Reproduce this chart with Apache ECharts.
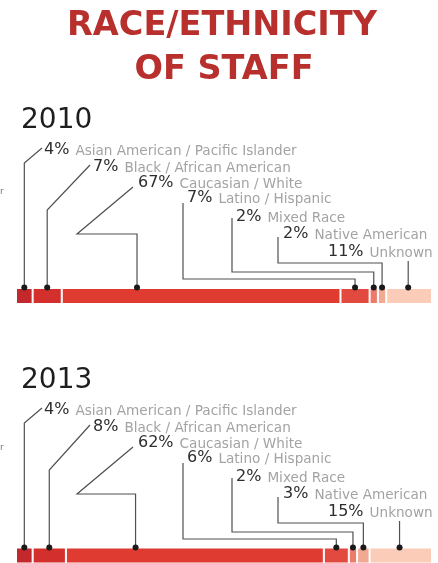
<!DOCTYPE html>
<html>
<head>
<meta charset="utf-8">
<title>Race/Ethnicity of Staff</title>
<script src="https://cdn.jsdelivr.net/npm/echarts@6/dist/echarts.min.js"></script>
<style>
  html, body { margin: 0; padding: 0; background: #ffffff; }
  #chart { width: 438px; height: 563px; }
</style>
</head>
<body>
<div id="chart"></div>
<script>
// Staff composition by race/ethnicity, percent of all staff
const categories = [
  'Asian American / Pacific Islander',
  'Black / African American',
  'Caucasian / White',
  'Latino / Hispanic',
  'Mixed Race',
  'Native American',
  'Unknown'
];
const years = ['2010', '2013'];
const share2010 = [4, 7, 67, 7, 2, 2, 11];
const share2013 = [4, 8, 62, 6, 2, 3, 15];
const titleLines = ['RACE/ETHNICITY', 'OF STAFF'];

// Segment colours, darkest red to pale peach
const segmentColors = ['#c3282c', '#d3302d', '#df3b31', '#e24a3f', '#ec7b6b', '#f3a892', '#fbcdb8'];

// Callout layout, offsets in px from the top edge of each bar
// kind: diag = up then slant to label, zig = slant back then across,
// elbow = rail down from label then across, drop = straight up
const callouts = [
  { kind: 'diag',  lx: 44,  ly: -138, tx: 42,  ty: -140, ky: -125, frac: 0.5 },
  { kind: 'diag',  lx: 93,  ly: -121, tx: 90,  ty: -123, ky: -78,  frac: 0.5 },
  { kind: 'zig',   lx: 138, ly: -105, tx: 133, ty: -101, kx: 77, ky: -54, frac: 0.27 },
  { kind: 'elbow', lx: 187, ly: -90,  tx: 183, ty: -85,  ky: -9,  frac: 0.5 },
  { kind: 'elbow', lx: 236, ly: -71,  tx: 232, ty: -70,  ky: -16, frac: 0.5 },
  { kind: 'elbow', lx: 283, ly: -54,  tx: 278, ty: -51,  ky: -25, frac: 0.5 },
  { kind: 'drop',  lx: 328, ly: -36,  ty: -27, frac: 0.48 }
];

const panels = [
  { year: years[0], shares: share2010, barTop: 288 },
  { year: years[1], shares: share2013, barTop: 548 }
];

const BAR_H = 16;
const LINE = '#505050';
const FONT = '"DejaVu Sans", sans-serif';

function calloutRenderer(shares) {
  return function (params, api) {
    const i = params.dataIndex;
    const c = callouts[i];
    const top = params.coordSys.y;
    let start = 0;
    for (let k = 0; k < i; k++) start += shares[k];
    const dotX = api.coord([start + shares[i] * c.frac, 0])[0];
    const dotY = top - 0.5;
    let pts;
    if (c.kind === 'diag') {
      pts = [[c.tx, top + c.ty], [dotX, top + c.ky], [dotX, dotY]];
    } else if (c.kind === 'zig') {
      pts = [[c.tx, top + c.ty], [c.kx, top + c.ky], [dotX, top + c.ky], [dotX, dotY]];
    } else if (c.kind === 'elbow') {
      pts = [[c.tx, top + c.ty], [c.tx, top + c.ky], [dotX, top + c.ky], [dotX, dotY]];
    } else {
      pts = [[dotX, top + c.ty], [dotX, dotY]];
    }
    return {
      type: 'group',
      children: [
        { type: 'polyline', shape: { points: pts },
          style: { stroke: LINE, lineWidth: 1.2, fill: null } },
        { type: 'circle', shape: { cx: dotX, cy: dotY, r: 3 },
          style: { fill: '#1a1a1a' } },
        { type: 'text',
          style: {
            x: c.lx, y: top + c.ly,
            text: '{p|' + shares[i] + '%}{n|' + categories[i] + '}',
            verticalAlign: 'middle', align: 'left',
            rich: {
              p: { fontFamily: FONT, fontSize: 16, fill: '#2e2e2e', padding: [0, 6, 0, 0] },
              n: { fontFamily: FONT, fontSize: 13.6, fill: '#a3a3a3', padding: [2, 0, 0, 0] }
            }
          } }
      ]
    };
  };
}

const grid = [], xAxis = [], yAxis = [], series = [];
const graphic = [
  { type: 'text', x: 222, y: 26,
    style: { text: titleLines[0], align: 'center', verticalAlign: 'middle',
             fontFamily: FONT, fontSize: 33.5, fontWeight: 'bold', fill: '#b8302d' } },
  { type: 'text', x: 224, y: 70,
    style: { text: titleLines[1], align: 'center', verticalAlign: 'middle',
             fontFamily: FONT, fontSize: 33.5, fontWeight: 'bold', fill: '#b8302d' } }
];
panels.forEach(function (p, g) {
  grid.push({ left: 16, width: 416, top: p.barTop, height: BAR_H });
  xAxis.push({ gridIndex: g, type: 'value', min: 0, max: 100, show: false });
  yAxis.push({ gridIndex: g, type: 'category', data: [p.year], show: false });
  p.shares.forEach(function (v, i) {
    series.push({
      type: 'bar', xAxisIndex: g, yAxisIndex: g, stack: 'staff' + p.year,
      name: categories[i], data: [v], barWidth: BAR_H,
      itemStyle: { color: segmentColors[i], borderColor: '#ffffff', borderWidth: 1 },
      silent: true, animation: false
    });
  });
  series.push({
    type: 'custom', xAxisIndex: g, yAxisIndex: g,
    data: p.shares.map(function (v, i) { return [i]; }),
    renderItem: calloutRenderer(p.shares), animation: false, silent: true, z: 5
  });
  graphic.push({
    type: 'text', left: 21, top: p.barTop - 181,
    style: { text: p.year, fontFamily: FONT, fontSize: 28, fill: '#1e1e1e' }
  });
  graphic.push({
    type: 'text', left: 0, top: p.barTop - 101 - g * 4,
    style: { text: 'r', fontFamily: FONT, fontSize: 9, fill: '#777777' }
  });
});

const chart = echarts.init(document.getElementById('chart'), null, { renderer: 'canvas' });
chart.setOption({
  backgroundColor: '#ffffff',
  animation: false,
  grid: grid, xAxis: xAxis, yAxis: yAxis, series: series, graphic: graphic
});
</script>
</body>
</html>
